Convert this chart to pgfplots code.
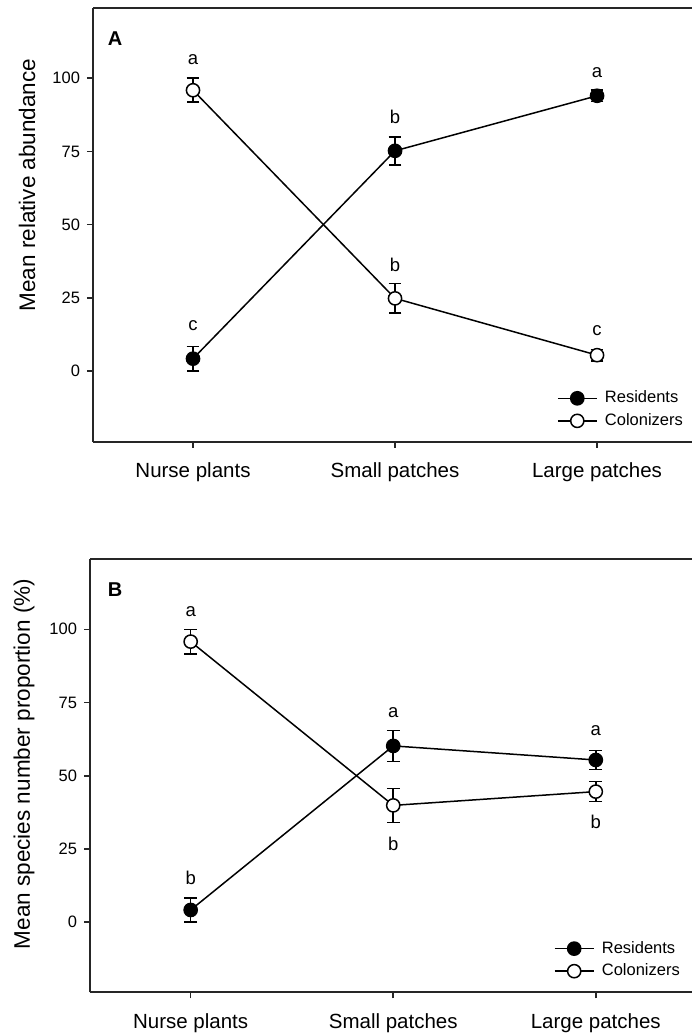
\documentclass[border=0pt]{standalone}
\usepackage{fontspec}
\setmainfont{Liberation Sans}
\usepackage{pgfplots}
\pgfplotsset{compat=1.18}

% Shared look of both panels (1 unit = 0.5pt)
\pgfplotsset{
  panel/.style={
    scale only axis,
    axis x line*=bottom,
    axis y line*=left,
    axis line style={line width=0.9pt, color=black!85},
    tick align=outside,
    major tick length=3pt,
    tick style={line width=0.8pt, color=black!85},
    xtick={0,1,2},
    xticklabels={Nurse plants, Small patches, Large patches},
    ytick={0,25,50,75,100},
    x tick label style={font=\fontsize{10.25}{12}\selectfont, yshift=-4pt},
    y tick label style={font=\fontsize{8.25}{10}\selectfont},
    /pgf/number format/assume math mode=true,
    ylabel style={font=\fontsize{11.25}{13}\selectfont, rotate=0, anchor=center},
    legend style={draw=none, fill=none, font=\fontsize{8.25}{9.9}\selectfont,
      anchor=south west, row sep=1.4pt, inner sep=0pt,
      nodes={inner sep=1.2pt}},
    legend cell align=left,
    legend image code/.code={%
      \draw[mark repeat=2, mark phase=2, #1] plot coordinates {(0pt,0pt) (9.75pt,0pt) (19.5pt,0pt)};},
    extra description/.code={%
      \draw[line width=0.9pt, black!85] (rel axis cs:0,1) -- (rel axis cs:1,1);},
  },
  resid/.style={black, line width=0.75pt,
    mark=*, mark size=3.3pt, mark options={solid, fill=black},
    error bars/.cd, y dir=both, y explicit,
    error bar style={line width=0.75pt, black},
    error mark options={line width=0.75pt, mark size=3.2pt, rotate=90, black}},
  colon/.style={black, line width=0.75pt,
    mark=*, mark size=3.3pt, mark options={solid, fill=white},
    error bars/.cd, y dir=both, y explicit,
    error bar style={line width=0.75pt, black},
    error mark options={line width=0.75pt, mark size=3.2pt, rotate=90, black}},
}
\tikzset{letter/.style={font=\fontsize{9.25}{11}\selectfont, inner sep=0pt, anchor=center}}

\begin{document}
\begin{tikzpicture}

% ---------- Panel A: relative abundance ----------
\begin{axis}[panel,
  at={(46.5pt,297pt)}, anchor=south west,
  width=299.5pt, height=217pt,
  xmin=-0.495, xmax=2.470, ymin=-24.26, ymax=124.0,
  ylabel={Mean relative abundance},
  ylabel style={at={(rel axis cs:-0.110,0.592)}},
  legend style={at={(rel axis cs:0.774,0.025)}},
]
\addplot[resid] table[x=x, y=y, y error=e] {
x y    e
0 4.2  4.2
1 75.2 4.8
2 94.0 2.0
};
\addlegendentry{\hspace{2.5pt}Residents}
\addplot[colon] table[x=x, y=y, y error=e] {
x y    e
0 95.9 4.1
1 24.8 5.0
2 5.4  2.0
};
\addlegendentry{\hspace{2.5pt}Colonizers}
\node[font=\bfseries\fontsize{10}{12}\selectfont, inner sep=0pt] at (rel axis cs:0.0367,0.9286) {A};
\node[letter] at (axis cs:0,106.2) {a};
\node[letter] at (axis cs:0,15.4) {c};
\node[letter] at (axis cs:1,86.7) {b};
\node[letter] at (axis cs:1,36.2) {b};
\node[letter] at (axis cs:2,102.0) {a};
\node[letter] at (axis cs:2,13.8) {c};
\end{axis}

% ---------- Panel B: species number proportion ----------
\begin{axis}[panel,
  at={(45pt,21.85pt)}, anchor=south west,
  width=301pt, height=216.65pt,
  xmin=-0.497, xmax=2.475, ymin=-23.9, ymax=124.0,
  ylabel={Mean species number proportion (\%)},
  ylabel style={at={(rel axis cs:-0.1096,0.527)}},
  legend style={at={(rel axis cs:0.770,0.025)}},
]
\addplot[resid] table[x=x, y=y, y error=e] {
x y    e
0 4.2  4.1
1 60.2 5.3
2 55.4 3.3
};
\addlegendentry{\hspace{2.5pt}Residents}
\addplot[colon] table[x=x, y=y, y error=e] {
x y    e
0 95.8 4.2
1 39.9 5.8
2 44.6 3.4
};
\addlegendentry{\hspace{2.5pt}Colonizers}
\node[font=\bfseries\fontsize{10}{12}\selectfont, inner sep=0pt] at (rel axis cs:0.0415,0.9285) {B};
\node[letter] at (axis cs:0,106.2) {a};
\node[letter] at (axis cs:0,15.0) {b};
\node[letter] at (axis cs:1,71.7) {a};
\node[letter] at (axis cs:1,26.6) {b};
\node[letter] at (axis cs:2,65.4) {a};
\node[letter] at (axis cs:2,34.1) {b};
\end{axis}

\pgfresetboundingbox
\useasboundingbox (0,0) rectangle (346pt,518pt);
\end{tikzpicture}
\end{document}
